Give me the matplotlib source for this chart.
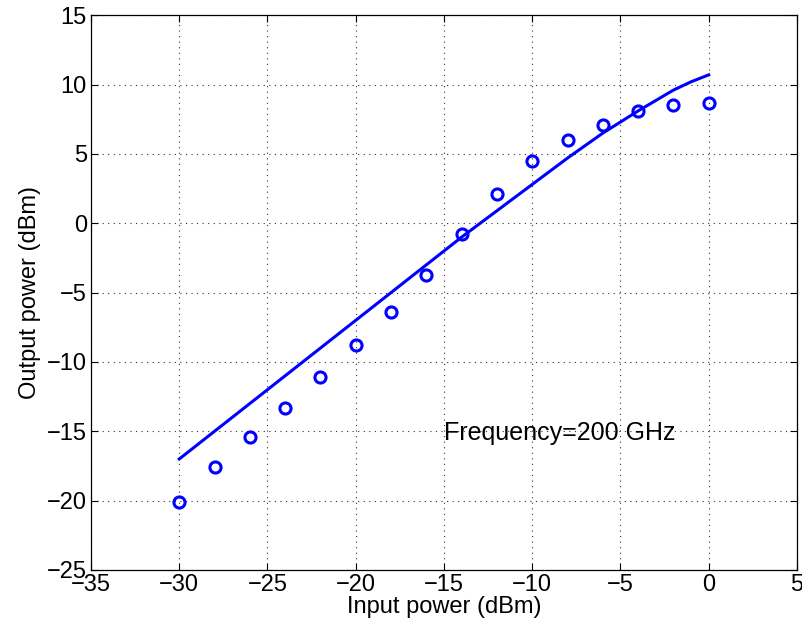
import matplotlib
matplotlib.use("Agg")
import matplotlib.pyplot as plt
import numpy as np

plt.rcParams['font.family'] = ['Liberation Sans', 'DejaVu Sans']

# measured points (circles)
pin_meas = [-30, -28, -26, -24, -22, -20, -18, -16, -14, -12, -10, -8, -6, -4, -2, 0]
pout_meas = [-20.1, -17.6, -15.4, -13.3, -11.1, -8.8, -6.4, -3.7, -0.8, 2.1, 4.5, 6.0, 7.1, 8.1, 8.5, 8.7]

# simulated curve
pin_sim = [-30, -28, -26, -24, -22, -20, -18, -16, -14, -12, -10, -8, -6, -4, -2, -1, 0]
pout_sim = [-17.0, -15.0, -13.0, -11.0, -9.0, -7.0, -5.0, -3.0, -1.0, 0.9, 2.8, 4.7, 6.5, 8.1, 9.6, 10.2, 10.7]

fig = plt.figure(figsize=(8.03, 6.34), dpi=100)
ax = fig.add_axes([0.1133, 0.101, 0.8792, 0.875])

ax.plot(pin_sim, pout_sim, color='#0000ff', lw=2.2)
ax.plot(pin_meas, pout_meas, 'o', color='#0000ff', mfc='none', ms=8, mew=2.2)

ax.set_xlim(-35, 5)
ax.set_ylim(-25, 15)
ax.set_xticks(np.arange(-35, 6, 5))
ax.set_yticks(np.arange(-25, 16, 5))
ax.grid(True, linestyle=(0, (1, 4)), color='#333333', lw=0.8)
ax.tick_params(direction='in', top=True, right=True, labelsize=17, length=5, pad=3)
for s in ax.spines.values():
    s.set_linewidth(0.9)

ax.text(-15, -15.1, 'Frequency=200 GHz', fontsize=18, va='center', ha='left')
ax.set_xlabel('Input power (dBm)', fontsize=17, labelpad=0)
ax.set_ylabel('Output power (dBm)', fontsize=17, labelpad=4)

fig.savefig('out.png', dpi=100)
